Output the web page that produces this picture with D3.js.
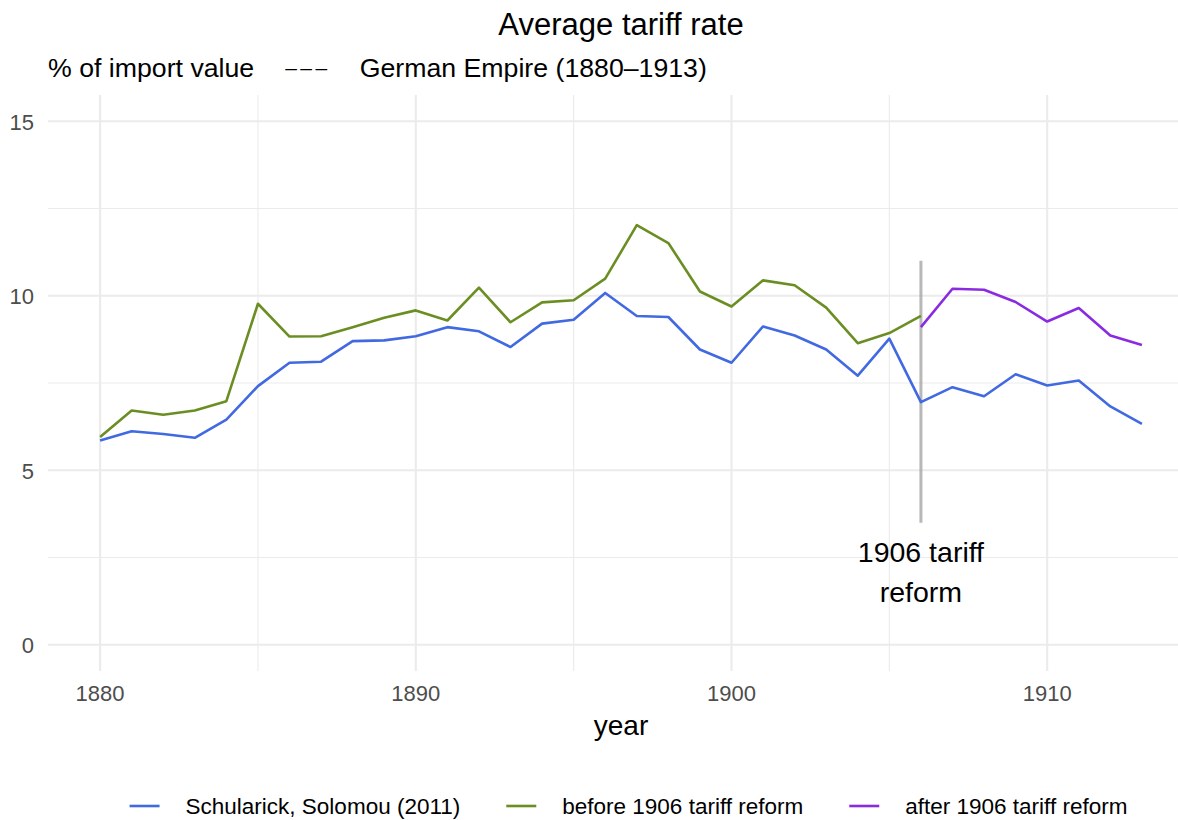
<!DOCTYPE html>
<html lang="en">
	<head>
		<meta charset="utf-8">
		<title>Average tariff rate</title>
		<script type="text/javascript" src="https://cdn.jsdelivr.net/npm/d3@7"></script>
		<style type="text/css">
			html, body{
				margin: 0;
				padding: 0;
				background-color: white;
				overflow: hidden;
			}
			text{
				font-family: 'Liberation Sans', Arial, sans-serif;
			}
			.tick_label{
				font-size: 22px;
				fill: #4D4D4D;
			}
			.grid_major{
				stroke: #EBEBEB;
				stroke-width: 2.1;
			}
			.grid_minor{
				stroke: #EBEBEB;
				stroke-width: 1.1;
			}
		</style>
	</head>
	<body>
		<div id="chart"></div>
		<script type="text/javascript">

			// data
			var years = d3.range(1880, 1914);
			var schularick = [5.85, 6.12, 6.04, 5.93, 6.45, 7.41, 8.08, 8.11, 8.70, 8.72,
				8.84, 9.10, 8.98, 8.53, 9.20, 9.31, 10.08, 9.42, 9.39, 8.46,
				8.08, 9.12, 8.86, 8.46, 7.71, 8.77, 6.95, 7.38, 7.12, 7.75,
				7.43, 7.57, 6.83, 6.33];
			var beforeYears = d3.range(1880, 1907);
			var beforeReform = [5.95, 6.71, 6.59, 6.71, 6.98, 9.77, 8.83, 8.84, 9.10, 9.37,
				9.58, 9.29, 10.23, 9.24, 9.81, 9.87, 10.49, 12.02, 11.51, 10.12,
				9.69, 10.44, 10.30, 9.66, 8.64, 8.93, 9.42];
			var afterYears = d3.range(1906, 1914);
			var afterReform = [9.10, 10.20, 10.17, 9.82, 9.26, 9.65, 8.86, 8.59];

			var xTicks = [1880, 1890, 1900, 1910];
			var xMinor = [1885, 1895, 1905];
			var yTicks = [0, 5, 10, 15];
			var yMinor = [2.5, 7.5, 12.5];

			var seriesNames = ["Schularick, Solomou (2011)", "before 1906 tariff reform", "after 1906 tariff reform"];
			var seriesColors = ["#4169E1", "#6B8E23", "#8A2BE2"];

			var reformYear = 1906;
			var reformRange = [3.5, 11];

			var w = 1178;
			var h = 820;

			//panel box (the right side runs past the window edge)
			var panel = {left: 48, right: 1194, top: 95, bottom: 671};

			var svg = d3.select("#chart")
						.append("svg")
						.attr("width", w)
						.attr("height", h);

			var xScale = d3.scaleLinear()
						.domain([1878.35, 1914.65])
						.range([panel.left, panel.right]);

			var yScale = d3.scaleLinear()
						.domain([-0.75, 15.75])
						.range([panel.bottom, panel.top]);

			// grid lines
			svg.selectAll(".ygrid_minor")
				.data(yMinor)
				.enter()
				.append("line")
				.attr("class", "grid_minor")
				.attr("x1", panel.left).attr("x2", panel.right)
				.attr("y1", function(d){ return yScale(d); })
				.attr("y2", function(d){ return yScale(d); });

			svg.selectAll(".xgrid_minor")
				.data(xMinor)
				.enter()
				.append("line")
				.attr("class", "grid_minor")
				.attr("y1", panel.top).attr("y2", panel.bottom)
				.attr("x1", function(d){ return xScale(d); })
				.attr("x2", function(d){ return xScale(d); });

			svg.selectAll(".ygrid_major")
				.data(yTicks)
				.enter()
				.append("line")
				.attr("class", "grid_major")
				.attr("x1", panel.left).attr("x2", panel.right)
				.attr("y1", function(d){ return yScale(d); })
				.attr("y2", function(d){ return yScale(d); });

			svg.selectAll(".xgrid_major")
				.data(xTicks)
				.enter()
				.append("line")
				.attr("class", "grid_major")
				.attr("y1", panel.top).attr("y2", panel.bottom)
				.attr("x1", function(d){ return xScale(d); })
				.attr("x2", function(d){ return xScale(d); });

			// tick labels
			svg.selectAll(".ylab")
				.data(yTicks)
				.enter()
				.append("text")
				.attr("class", "tick_label")
				.attr("text-anchor", "end")
				.attr("dominant-baseline", "central")
				.attr("x", 34)
				.attr("y", function(d){ return yScale(d) + 1; })
				.text(function(d){ return d; });

			svg.selectAll(".xlab")
				.data(xTicks)
				.enter()
				.append("text")
				.attr("class", "tick_label")
				.attr("text-anchor", "middle")
				.attr("x", function(d){ return xScale(d); })
				.attr("y", 701)
				.text(function(d){ return d; });

			svg.append("text")
				.attr("x", (panel.left + panel.right) / 2)
				.attr("y", 735)
				.attr("text-anchor", "middle")
				.style("font-size", "28px")
				.text("year");

			// lines
			var line = d3.line()
						.x(function(d){ return xScale(d[0]); })
						.y(function(d){ return yScale(d[1]); });

			var lineData = [
				d3.zip(years, schularick),
				d3.zip(beforeYears, beforeReform),
				d3.zip(afterYears, afterReform)
			];

			// reform marker
			svg.append("line")
				.attr("x1", xScale(reformYear)).attr("x2", xScale(reformYear))
				.attr("y1", yScale(reformRange[0]))
				.attr("y2", yScale(reformRange[1]))
				.attr("stroke", "#A6A6A6")
				.attr("stroke-opacity", 0.8)
				.attr("stroke-width", 3);

			svg.selectAll("path.series")
				.data(lineData)
				.enter()
				.append("path")
				.attr("class", "series")
				.attr("d", line)
				.attr("fill", "none")
				.attr("stroke", function(d, i){ return seriesColors[i]; })
				.attr("stroke-width", 2.6)
				.attr("stroke-linejoin", "round");

			var note = svg.append("text")
				.attr("text-anchor", "middle")
				.style("font-size", "28.5px");
			note.append("tspan")
				.attr("x", xScale(reformYear))
				.attr("y", 562)
				.text("1906 tariff");
			note.append("tspan")
				.attr("x", xScale(reformYear))
				.attr("y", 602)
				.text("reform");

			// titles
			svg.append("text")
				.attr("x", (panel.left + panel.right) / 2)
				.attr("y", 35)
				.attr("text-anchor", "middle")
				.style("font-size", "31px")
				.text("Average tariff rate");

			var sub = svg.append("text")
				.attr("x", 48)
				.attr("y", 77)
				.style("font-size", "26.7px");
			sub.append("tspan").text("% of import value");
			sub.append("tspan")
				.attr("dx", 31)
				.attr("dy", -2)
				.style("font-size", "21px")
				.style("letter-spacing", "3.5px")
				.text("\u2013\u2013\u2013");
			sub.append("tspan")
				.attr("dx", 29)
				.attr("dy", 2)
				.text("German Empire (1880\u20131913)");

			// legend
			var legend = svg.append("g");
			var keyW = 30, keyGap = 26, itemGap = 46, legendY = 806;
			var xPos = 0;
			seriesNames.forEach(function(name, i){
				var g = legend.append("g").attr("transform", "translate(" + xPos + ",0)");
				g.append("line")
					.attr("x1", 0).attr("x2", keyW)
					.attr("y1", legendY).attr("y2", legendY)
					.attr("stroke", seriesColors[i])
					.attr("stroke-width", 2.6);
				var t = g.append("text")
					.attr("x", keyW + keyGap)
					.attr("y", legendY)
					.attr("dominant-baseline", "central")
					.style("font-size", "22.5px")
					.text(name);
				xPos += keyW + keyGap + t.node().getComputedTextLength() + itemGap;
			});
			var legendW = xPos - itemGap;
			legend.attr("transform", "translate(" + (628.5 - legendW / 2) + ",0)");

		</script>
	</body>
</html>
